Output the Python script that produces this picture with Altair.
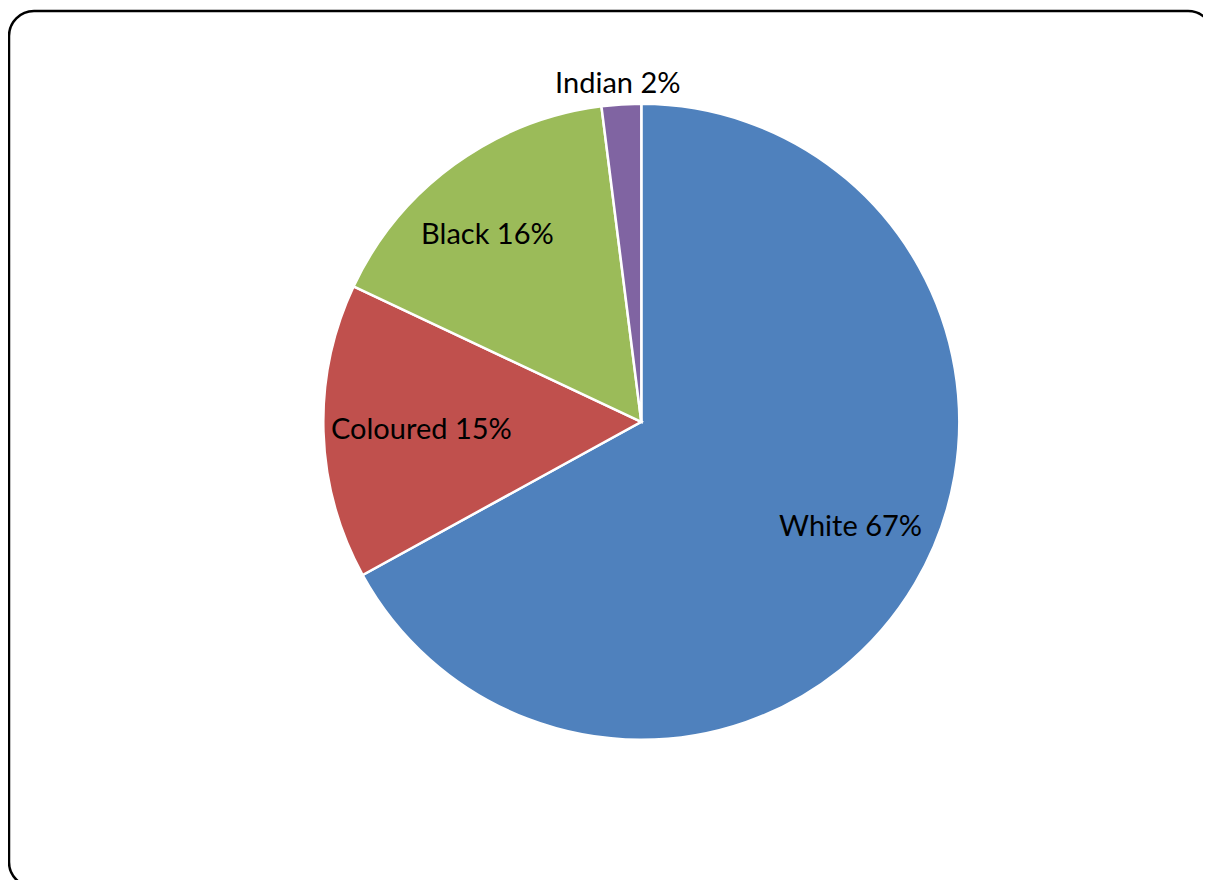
import math
import altair as alt
import pandas as pd

# ---- data ----
categories = ["White", "Coloured", "Black", "Indian"]
shares = [67, 15, 16, 2]
colors = ["#4F81BD", "#C0504D", "#9BBB59", "#8064A2"]

# ---- layout (label placement, not data) ----
label_radius = [233, 220, 244, 341]          # px from pie centre
label_angle_shift = [-4.5, 0.4, -3.1, -0.35]  # degrees off slice mid-angle
PAD_L, PAD_T = 1, 3
VIEW_W, VIEW_H = 1204, 876
SVG_W, SVG_H = 1195, 872
CX, CY, R = 641.3 - 8 - PAD_L, 421.8 - 8 - PAD_T, 318

total = sum(shares)
rows = []
cum = 0
for i, (c, v) in enumerate(zip(categories, shares)):
    mid = (cum + v / 2) / total * 2 * math.pi
    cum += v
    rows.append(dict(
        category=c, share=v, order=i, label=f"{c} {v}%",
        lab_theta=mid + math.radians(label_angle_shift[i]),
        lab_r=label_radius[i],
    ))
df = pd.DataFrame(rows)

base = alt.Chart(df)

pie = base.mark_arc(outerRadius=R, stroke="white", strokeWidth=2.5).encode(
    theta=alt.Theta("share:Q", stack=True),
    order=alt.Order("order:Q"),
    color=alt.Color("category:N",
                    scale=alt.Scale(domain=categories, range=colors),
                    legend=None),
    x=alt.value(CX),
    y=alt.value(CY),
)

labels = base.mark_text(font="Lato", fontSize=29, color="black",
                        align="center", baseline="middle", dy=2.5).encode(
    theta=alt.Theta("lab_theta:Q", scale=None, stack=False),
    radius=alt.Radius("lab_r:Q", scale=None),
    text=alt.Text("label:N"),
    x=alt.value(CX),
    y=alt.value(CY),
)

chart = alt.layer(pie, labels).properties(
    width=VIEW_W, height=VIEW_H,
    autosize=alt.AutoSizeParams(type="none"),
    padding={"left": PAD_L, "top": PAD_T,
             "right": SVG_W - PAD_L - VIEW_W,
             "bottom": SVG_H - PAD_T - VIEW_H},
    background="white",
).configure_view(
    stroke="black", strokeWidth=2.5, cornerRadius=25, fill="white"
)

chart.save("out.html", embed_options={"renderer": "svg", "actions": False})
